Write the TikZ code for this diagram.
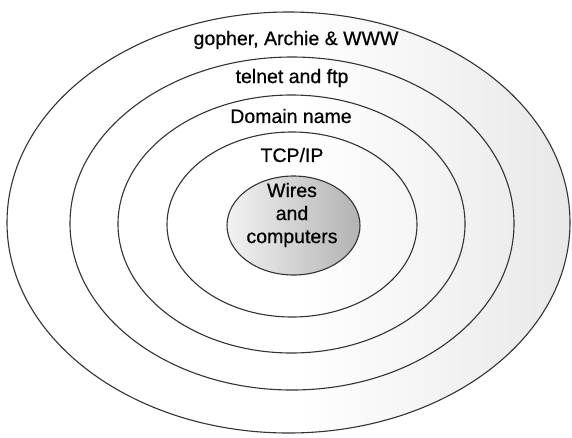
\documentclass[tikz,border=0pt]{standalone}
\usepackage{fontspec}
\setmainfont{Liberation Sans}
\newfontfamily\labelfont[FakeBold=0.6]{Liberation Sans}
\begin{document}
\begin{tikzpicture}[x=1pt,y=-1pt,
  ring/.style={draw=black!80, line width=1.1pt},
  layer/.style={font=\labelfont\fontsize{19.5}{23}\selectfont, text=black, align=center, inner sep=0pt}]
\useasboundingbox (0,0) rectangle (572,437);
\fill[white] (0,0) rectangle (572,437);
% faint grey tone towards the right inside the outer ring
\begin{scope}
  \clip (288.5,222.5) ellipse [x radius=281.5, y radius=210.5];
  \shade[left color=white, right color=black!9] (300,0) rectangle (572,437);
\end{scope}
% grey core
\shade[shading angle=105, left color=black!5, right color=black!30] (293.5,225.5) ellipse [x radius=66.5, y radius=49.5];
% rings, outermost first
\draw[ring] (288.5,222.5) ellipse [x radius=281.5, y radius=210.5];
\draw[ring] (292,223.5) ellipse [x radius=222, y radius=166.5];
\draw[ring] (291.5,224) ellipse [x radius=173.5, y radius=129];
\draw[ring] (292,224.5) ellipse [x radius=125, y radius=92.5];
\draw[ring] (293.5,225.5) ellipse [x radius=66.5, y radius=49.5];
% labels
\node[layer] (apps)   at (296,40)  {gopher, Archie \& WWW};
\node[layer] (telnet) at (292,78)  {telnet and ftp};
\node[layer] (dns)    at (291,116) {Domain name};
\node[layer] (tcpip)  at (292,155) {TCP/IP};
\node[layer] (wires)  at (292,215) {Wires\\and\\computers};
\end{tikzpicture}
\end{document}
